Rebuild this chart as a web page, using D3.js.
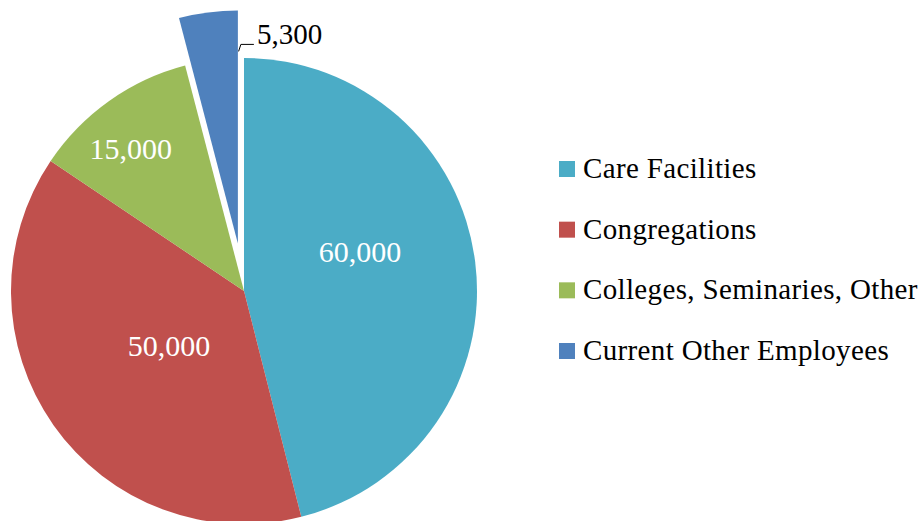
<!DOCTYPE html>
<html>
<head>
<meta charset="utf-8">
<script src="https://cdn.jsdelivr.net/npm/d3@7"></script>
<style>
  body { margin: 0; background: #fff; }
  svg { display: block; }
  text { font-family: "Liberation Serif", "Times New Roman", serif; }
</style>
</head>
<body>
<div id="chart"></div>
<script>
// data
categories = ["Care Facilities", "Congregations", "Colleges, Seminaries, Other", "Current Other Employees"]
values = [60000, 50000, 15000, 5300]
valueLabels = ["60,000", "50,000", "15,000", "5,300"]
colors = ["#4BACC6", "#C0504D", "#9BBB59", "#4F81BD"]
exploded = [false, false, false, true]

// dimensions
width = 923
height = 521
center = {x: 244, y: 291}
radius = 233
explodeBy = 48

// where excel's "best fit" put the inside labels (fraction of radius, angle nudge in degrees)
labelFit = [
    {r: 0.525, nudge: -11.5},
    {r: 0.40, nudge: -1.2},
    {r: 0.78, nudge: -3.2},
    null
]

data = categories.map((c, i) => ({
    category: c,
    value: values[i],
    label: valueLabels[i],
    color: colors[i],
    exploded: exploded[i],
    fit: labelFit[i]
}))

const svg = d3.select("#chart")
    .append("svg")
    .attr("width", width)
    .attr("height", height)

const pie = d3.pie()
    .sort(null)
    .value(d => d.value)

const arc = d3.arc()
    .innerRadius(0)
    .outerRadius(radius)

const arcs = pie(data)

// offset of a slice pulled out along its mid angle
function offset(a) {
    if (!a.data.exploded) return [0, 0]
    const mid = (a.startAngle + a.endAngle) / 2
    return [Math.sin(mid) * explodeBy, -Math.cos(mid) * explodeBy]
}

const g = svg.append("g")
    .attr("transform", `translate(${center.x}, ${center.y})`)

const slices = g.selectAll("g.slice")
    .data(arcs)
    .join("g")
    .attr("class", "slice")
    .attr("transform", d => `translate(${offset(d)})`)

slices.append("path")
    .attr("d", arc)
    .attr("fill", d => d.data.color)

// labels inside the slices
slices.filter(d => d.data.fit)
    .append("text")
    .attr("transform", d => {
        const mid = (d.startAngle + d.endAngle) / 2 + d.data.fit.nudge * Math.PI / 180
        const r = radius * d.data.fit.r
        return `translate(${Math.sin(mid) * r}, ${-Math.cos(mid) * r})`
    })
    .attr("text-anchor", "middle")
    .attr("dy", "0.34em")
    .attr("fill", "#fff")
    .style("font-size", "30px")
    .text(d => d.data.label)

// outside label with leader line for the exploded slice
slices.filter(d => !d.data.fit)
    .each(function(d) {
        const group = d3.select(this)
        // top right corner of the slice
        const cx = Math.sin(d.endAngle) * radius
        const cy = -Math.cos(d.endAngle) * radius
        const line = d3.line()
        group.append("path")
            .attr("d", line([[cx + 0.7, cy + 41], [cx + 3, cy + 34], [cx + 16, cy + 34]]))
            .attr("fill", "none")
            .attr("stroke", "#000")
            .attr("stroke-width", 1)
        group.append("text")
            .attr("x", cx + 19)
            .attr("y", cy + 34)
            .attr("fill", "#000")
            .style("font-size", "29px")
            .text(d.data.label)
    })

// legend
const legendY = d3.scalePoint()
    .domain(categories)
    .range([169, 351])

const legend = svg.append("g")
    .attr("transform", "translate(559, 0)")
    .selectAll("g")
    .data(data)
    .join("g")
    .attr("transform", d => `translate(0, ${legendY(d.category)})`)

legend.append("rect")
    .attr("x", 0)
    .attr("y", -8)
    .attr("width", 16)
    .attr("height", 16)
    .attr("fill", d => d.color)

legend.append("text")
    .attr("x", 24)
    .attr("y", 9)
    .attr("fill", "#000")
    .style("font-size", "29px")
    .style("letter-spacing", "0.35px")
    .text(d => d.category)
</script>
</body>
</html>
